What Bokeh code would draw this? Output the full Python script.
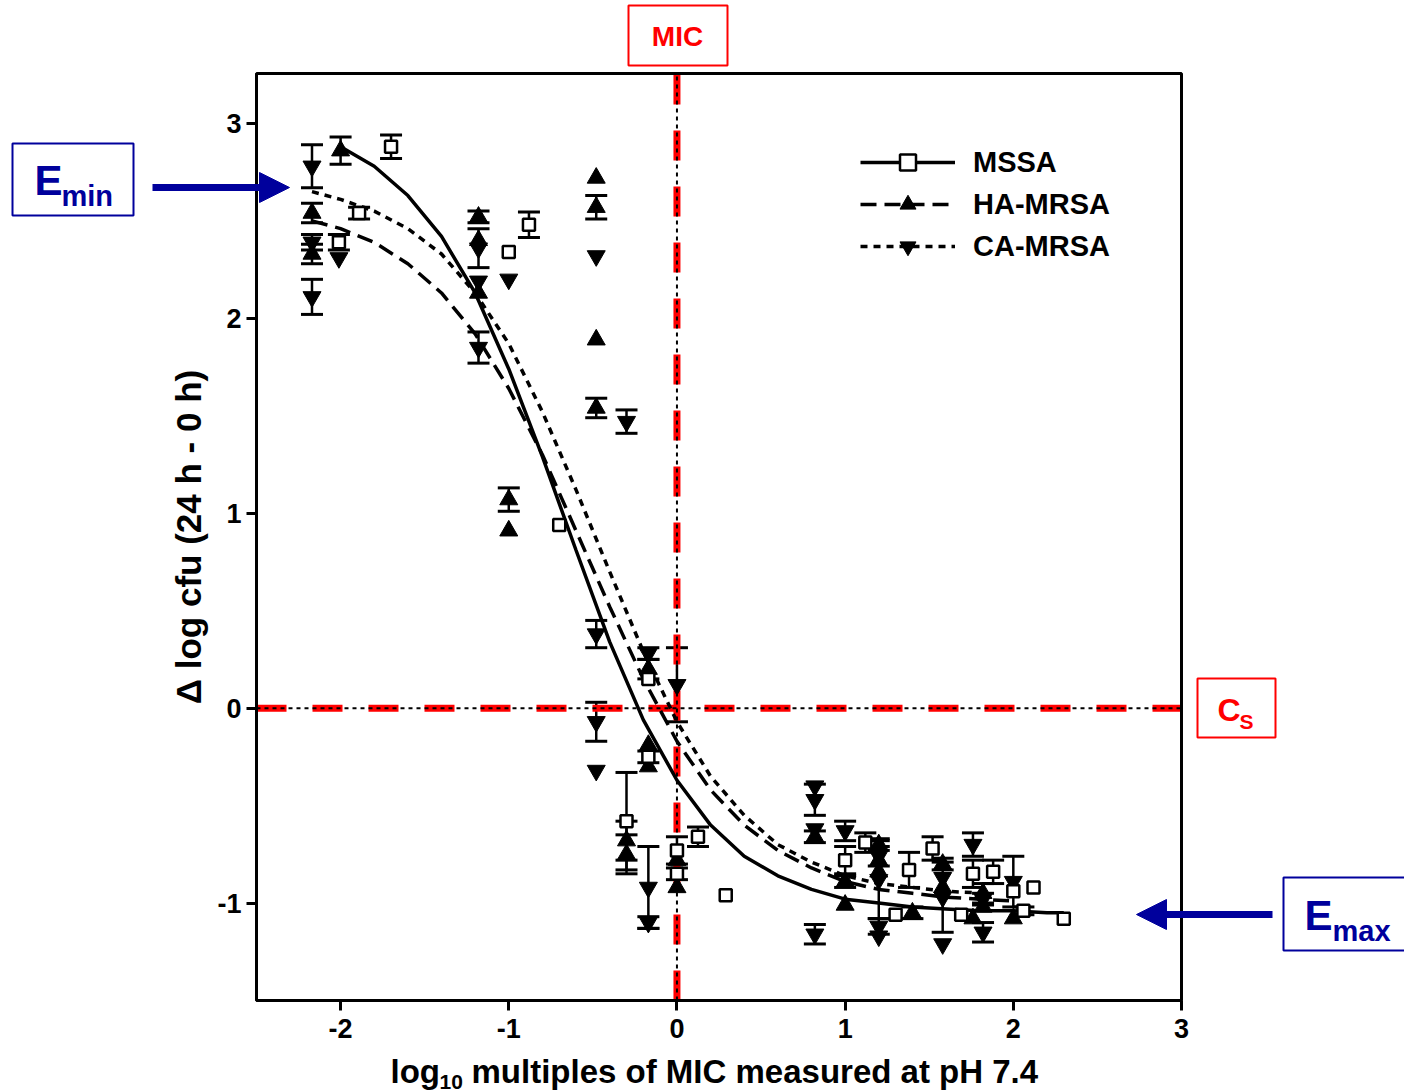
from bokeh.plotting import figure
from bokeh.models import (Label, Arrow, NormalHead, PolyAnnotation, BoxAnnotation, Whisker, TeeHead,
                          ColumnDataSource, Legend, LegendItem, FixedTicker, Range1d)
from bokeh.embed import file_html
from bokeh.resources import INLINE

# ---------------- data ----------------
mssa_x   = [-1.70, -1.89, -2.01, -1.00, -0.88, -0.70, -0.17, -0.17, -0.30, 0.00, 0.00, 0.125, 0.29,
            1.00, 1.12, 1.30, 1.38, 1.52, 1.69, 1.76, 1.88, 2.00, 2.06, 2.12, 2.30]
mssa_y   = [2.88, 2.54, 2.39, 2.34, 2.48, 0.94, 0.15, -0.25, -0.58, -0.73, -0.85, -0.66, -0.96,
            -0.78, -0.69, -1.06, -0.83, -0.72, -1.06, -0.85, -0.84, -0.94, -1.04, -0.92, -1.08]
mssa_err = [0.06, 0.03, 0.04, 0.0, 0.065, 0.0, 0.0, 0.03, 0.25, 0.07, 0.03, 0.05, 0.0,
            0.07, 0.05, 0.0, 0.09, 0.06, 0.0, 0.07, 0.06, 0.0, 0.02, 0.0, 0.0]

ha_x   = [-2.00, -2.17, -2.17, -1.18, -1.18, -1.18, -1.00, -1.00, -0.48, -0.48, -0.48, -0.48,
          -0.17, -0.17, -0.17, -0.30, -0.30, 0.00, 0.00, 0.82, 1.00, 1.00, 1.20, 1.20, 1.20,
          1.40, 1.58, 1.58, 1.76, 1.82, 1.82, 2.00]
ha_y   = [2.86, 2.54, 2.33, 2.52, 2.40, 2.13, 1.07, 0.91, 2.72, 2.57, 1.89, 1.54,
          0.20, -0.19, -0.30, -0.68, -0.75, -0.78, -0.92, -0.66, -0.89, -1.01, -0.70, -0.78, -0.84,
          -1.05, -0.80, -0.92, -1.08, -0.95, -1.02, -1.08]
ha_err = [0.07, 0.05, 0.05, 0.03, 0.0, 0.0, 0.06, 0.0, 0.0, 0.06, 0.0, 0.05,
          0.05, 0.0, 0.0, 0.10, 0.10, 0.0, 0.0, 0.03, 0.03, 0.0, 0.03, 0.0, 0.0,
          0.03, 0.03, 0.0, 0.0, 0.05, 0.0, 0.0]

ca_x   = [-2.17, -2.17, -2.17, -2.01, -1.18, -1.18, -1.18, -1.00, -0.48, -0.30, -0.48, -0.48,
          -0.48, -0.17, -0.17, -0.17, 0.00, 0.82, 0.82, 0.82, 0.82, 1.00, 1.20, 1.20, 1.20,
          1.20, 1.58, 1.58, 1.58, 1.76, 1.82, 1.82, 2.00]
ca_y   = [2.78, 2.39, 2.11, 2.31, 2.36, 2.19, 1.85, 2.20, 2.32, 1.47, 0.38, -0.07,
          -0.32, 0.28, -0.92, -1.10, 0.12, -0.40, -0.47, -0.62, -1.16, -0.63, -0.76, -0.88, -1.12,
          -1.17, -0.87, -0.97, -1.21, -0.70, -1.15, -0.98, -0.89]
ca_err = [0.11, 0.04, 0.09, 0.0, 0.10, 0.0, 0.08, 0.0, 0.0, 0.06, 0.07, 0.10,
          0.0, 0.03, 0.21, 0.03, 0.19, 0.0, 0.08, 0.0, 0.05, 0.05, 0.05, 0.20, 0.04,
          0.0, 0.0, 0.18, 0.0, 0.06, 0.05, 0.03, 0.13]

# fitted curves
mssa_cx = [-2.0, -1.8, -1.6, -1.4, -1.2, -1.0, -0.8, -0.6, -0.4, -0.2, 0.0, 0.2, 0.4, 0.6, 0.8,
           1.0, 1.2, 1.4, 1.6, 1.8, 2.0, 2.2, 2.3]
mssa_cy = [2.88, 2.78, 2.63, 2.42, 2.13, 1.74, 1.29, 0.81, 0.34, -0.06, -0.37, -0.60, -0.76, -0.86,
           -0.93, -0.98, -1.00, -1.02, -1.03, -1.04, -1.04, -1.05, -1.05]
ha_cx = [-2.17, -2.0, -1.8, -1.6, -1.4, -1.2, -1.0, -0.8, -0.6, -0.4, -0.2, 0.0, 0.2, 0.4, 0.6,
         0.8, 1.0, 1.2, 1.4, 1.6, 1.8, 2.0]
ha_cy = [2.50, 2.46, 2.39, 2.28, 2.13, 1.92, 1.64, 1.30, 0.91, 0.52, 0.15, -0.17, -0.42, -0.60,
         -0.73, -0.82, -0.89, -0.93, -0.95, -0.97, -0.98, -0.99]
ca_cx = [-2.17, -2.0, -1.8, -1.6, -1.4, -1.2, -1.0, -0.8, -0.6, -0.4, -0.2, 0.0, 0.2, 0.4, 0.6,
         0.8, 1.0, 1.2, 1.4, 1.6, 1.85]
ca_cy = [2.65, 2.61, 2.55, 2.46, 2.33, 2.13, 1.87, 1.52, 1.12, 0.70, 0.29, -0.07, -0.35, -0.55,
         -0.70, -0.79, -0.86, -0.90, -0.92, -0.94, -0.95]

x_ticks = [-2, -1, 0, 1, 2, 3]
y_ticks = [-1, 0, 1, 2, 3]
mic_x = 0.0      # MIC reference line
cs_y = 0.0       # stasis reference line

# ---------------- styling / layout ----------------
FONT = "Liberation Sans"
NAVY = "#00009C"
RED = "#FF0000"
W, H = 1404, 1091
LEFT, RIGHT, TOP, BOTTOM = 256, 223, 73, 91      # pixel position of the data area
X0, X1, Y0, Y1 = -2.5, 3.0, -1.5, 3.256           # data limits of the boxed area
kx = (X1 - X0) / (W - LEFT - RIGHT)
ky = (Y1 - Y0) / (H - TOP - BOTTOM)
CX0, CX1 = X0 - LEFT * kx, X1 + RIGHT * kx
CY0, CY1 = Y0 - BOTTOM * ky, Y1 + TOP * ky

p = figure(width=W, height=H, x_range=Range1d(CX0, CX1), y_range=Range1d(CY0, CY1),
           output_backend="svg", toolbar_location=None,
           min_border_left=0, min_border_right=0, min_border_top=0, min_border_bottom=0)
p.xgrid.visible = False
p.ygrid.visible = False
p.outline_line_color = None
p.background_fill_color = "white"
p.border_fill_color = "white"

def dx(px):
    return CX0 + px * kx
def dy(py):
    return CY1 - py * ky

p.xaxis.fixed_location = Y0
p.yaxis.fixed_location = X0
p.xaxis.bounds = (X0, X1)
p.yaxis.bounds = (Y0, Y1)
p.xaxis.major_label_overrides = {-2: "-2", -1: "-1"}
p.yaxis.major_label_overrides = {-1: "-1"}
for ax, ticks in ((p.xaxis, x_ticks), (p.yaxis, y_ticks)):
    ax.ticker = FixedTicker(ticks=ticks)
    ax.major_tick_out = 10
    ax.major_tick_in = 0
    ax.minor_tick_out = 0
    ax.minor_tick_in = 0
    ax.major_tick_line_width = 3
    ax.major_tick_line_color = "black"
    ax.axis_line_width = 3
    ax.axis_line_color = "black"
    ax.major_label_text_font = FONT
    ax.major_label_text_font_style = "bold"
    ax.major_label_text_font_size = "27px"
    ax.major_label_text_color = "black"
p.xaxis.major_label_standoff = 8
p.yaxis.major_label_standoff = 5

p.yaxis.axis_label = "\u0394 log cfu (24 h - 0 h)"
p.yaxis.axis_label_text_font = FONT
p.yaxis.axis_label_text_font_style = "bold"
p.yaxis.axis_label_text_font_size = "35px"
p.yaxis.axis_label_text_color = "black"
p.yaxis.axis_label_standoff = 6

# reference lines (MIC and Cs)
p.line([mic_x, mic_x], [Y0, Y1], line_color=RED, line_width=7, line_dash="30 26")
p.line([X0, X1], [cs_y, cs_y], line_color=RED, line_width=7, line_dash="30 26")
p.line([mic_x, mic_x], [Y0, Y1], line_color="black", line_width=2, line_dash="4 4")
p.line([X0, X1], [cs_y, cs_y], line_color="black", line_width=2, line_dash="4 4")

# curves
ms_line = p.line(mssa_cx, mssa_cy, line_color="black", line_width=3.5)
ha_line = p.line(ha_cx, ha_cy, line_color="black", line_width=3.5, line_dash="16 8")
ca_line = p.line(ca_cx, ca_cy, line_color="black", line_width=3.5, line_dash="7 6")

# error bars
def whisk(xs, ys, es):
    xx = [x for x, e in zip(xs, es) if e > 0]
    up = [y + e for y, e in zip(ys, es) if e > 0]
    lo = [y - e for y, e in zip(ys, es) if e > 0]
    src = ColumnDataSource(dict(x=xx, upper=up, lower=lo))
    w = Whisker(source=src, base="x", upper="upper", lower="lower", line_color="black",
                line_width=2.5,
                upper_head=TeeHead(size=22, line_width=3, line_color="black"),
                lower_head=TeeHead(size=22, line_width=3, line_color="black"))
    p.add_layout(w)

whisk(mssa_x, mssa_y, mssa_err)
whisk(ha_x, ha_y, ha_err)
whisk(ca_x, ca_y, ca_err)

ha_sc = p.scatter(ha_x, ha_y, marker="triangle", size=18, fill_color="black", line_color="black")
ca_sc = p.scatter(ca_x, ca_y, marker="inverted_triangle", size=18, fill_color="black", line_color="black")
ms_sc = p.scatter(mssa_x, mssa_y, marker="square", size=12, fill_color="white", line_color="black",
                  line_width=2.5)

# plot box
p.add_layout(BoxAnnotation(left=X0, right=X1, bottom=Y0, top=Y1, fill_alpha=0,
                           line_color="black", line_width=3, line_alpha=1))

legend = Legend(items=[LegendItem(label="MSSA", renderers=[ms_line, ms_sc]),
                       LegendItem(label="HA-MRSA", renderers=[ha_line, ha_sc]),
                       LegendItem(label="CA-MRSA", renderers=[ca_line, ca_sc])],
                location=(860, 825), padding=0, margin=0, spacing=2,
                glyph_width=95, glyph_height=40, label_height=40, label_standoff=18,
                label_text_font=FONT, label_text_font_style="bold", label_text_font_size="29px",
                label_text_color="black",
                border_line_color=None, background_fill_alpha=0)
p.add_layout(legend)

def lab(text, px, py, size, color="black", align="left"):
    # py is the vertical middle of the text line
    p.add_layout(Label(x=dx(px), y=dy(py), text=text, text_font=FONT, text_font_style="bold",
                       text_font_size=size, text_color=color, text_align=align,
                       text_baseline="middle"))

# x axis title with subscript
lab("log", 390, 1071, "33px")
lab("10", 439, 1081, "21px")
lab("multiples of MIC measured at pH 7.4", 471, 1071, "33px")

# boxed annotations
def box(x0, y0, x1, y1, color):
    p.add_layout(PolyAnnotation(xs=[dx(x0), dx(x1), dx(x1), dx(x0)],
                                ys=[dy(y0), dy(y0), dy(y1), dy(y1)],
                                fill_alpha=0, line_color=color, line_width=2, line_alpha=1))

box(628, 5, 727, 65, RED)
lab("MIC", 677, 36, "28px", RED, align="center")

box(1197, 678, 1275, 737, RED)
lab("C", 1217, 709, "32px", RED)
lab("S", 1239, 721, "21px", RED)

box(12, 143, 133, 215, NAVY)
lab("E", 34, 180, "42px", NAVY)
lab("min", 61, 195, "29px", NAVY)

box(1283, 877, 1410, 950, NAVY)
lab("E", 1304, 915, "42px", NAVY)
lab("max", 1332, 930, "29px", NAVY)

p.add_layout(Arrow(end=NormalHead(size=30, fill_color=NAVY, line_color=NAVY),
                   x_start=dx(152), y_start=dy(187), x_end=dx(289), y_end=dy(187),
                   line_color=NAVY, line_width=7))
p.add_layout(Arrow(end=NormalHead(size=30, fill_color=NAVY, line_color=NAVY),
                   x_start=dx(1272), y_start=dy(914), x_end=dx(1136), y_end=dy(914),
                   line_color=NAVY, line_width=7))

open("out.html", "w").write(file_html(p, INLINE))
